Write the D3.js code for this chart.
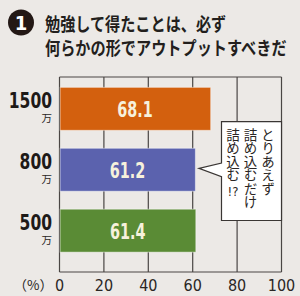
<!DOCTYPE html>
<html lang="ja">
<head>
<meta charset="UTF-8">
<title>アウトプット</title>
<script src="https://d3js.org/d3.v7.min.js"></script>
<style>
    body { margin: 0; background: #ECE9E6; }
    svg { display: block; }
    .jp { font-family: "Noto Sans CJK JP", sans-serif; }
    .num { font-family: "Liberation Sans Narrow", "DejaVu Sans Condensed", sans-serif; }
</style>
</head>
<body>
<div id="chart"></div>
<script>
// data
const categories = ["1500", "800", "500"];
const values = [68.1, 61.2, 61.4];
const colors = ["#D3600E", "#5B62AE", "#5A8B35"];
const unit = "万";
const ticks = [0, 20, 40, 60, 80, 100];
const titleLines = ["勉強して得たことは、必ず", "何らかの形でアウトプットすべきだ"];
const noteCols = ["とりあえず", "詰め込むだけ", "詰め込む"];

const width = 300, height = 296;
const svg = d3.select("#chart").append("svg")
    .attr("width", width)
    .attr("height", height);

svg.append("rect").attr("width", width).attr("height", height).attr("fill", "#ECE9E6");

// narrow bold digits: squeeze text to this width
function narrowLen(s, digitW) {
    return s.split("").reduce((a, c) => a + (c === "." ? digitW * 0.45 : digitW), 0);
}

// title
svg.append("circle").attr("cx", 21).attr("cy", 22.5).attr("r", 13).attr("fill", "#231815");
svg.append("text").attr("class", "num")
    .attr("x", 21).attr("y", 29.5)
    .attr("text-anchor", "middle")
    .attr("fill", "#fff").attr("font-weight", "bold").attr("font-size", 20)
    .text("1");
svg.selectAll(".title").data(titleLines).enter().append("text")
    .attr("class", "jp title")
    .attr("x", 45)
    .attr("y", (d, i) => 31 + i * 24)
    .attr("font-size", 18.5).attr("font-weight", "bold").attr("fill", "#231f1d")
    .attr("textLength", d => d.length * 15.1)
    .attr("lengthAdjust", "spacingAndGlyphs")
    .text(d => d);

// scales
const plotTop = 77, plotBottom = 272;
const x = d3.scaleLinear().domain([0, 100]).range([59.5, 281.5]);
const y = d3.scaleBand().domain(categories).range([plotTop, 262.5])
    .paddingInner(0.295).paddingOuter(0.17);

// grid
svg.selectAll(".grid").data(ticks).enter().append("line")
    .attr("x1", d => x(d)).attr("x2", d => x(d))
    .attr("y1", plotTop).attr("y2", plotBottom)
    .attr("stroke", "#4a4644").attr("stroke-width", 1.2);
svg.append("line").attr("x1", x(0)).attr("x2", x(100)).attr("y1", plotTop).attr("y2", plotTop)
    .attr("stroke", "#4a4644").attr("stroke-width", 1.2);
svg.append("line").attr("x1", x(0)).attr("x2", x(100)).attr("y1", plotBottom).attr("y2", plotBottom)
    .attr("stroke", "#4a4644").attr("stroke-width", 1.2);

// bars
svg.selectAll(".bar").data(categories).enter().append("rect")
    .attr("x", x(0) + 0.6)
    .attr("y", d => y(d))
    .attr("width", (d, i) => x(values[i]) - x(0) - 0.6)
    .attr("height", y.bandwidth())
    .attr("fill", (d, i) => colors[i])
    .attr("stroke", "#ffffff").attr("stroke-opacity", 0.45).attr("stroke-width", 1);

svg.selectAll(".val").data(categories).enter().append("text")
    .attr("class", "num")
    .attr("x", (d, i) => (x(0) + x(values[i])) / 2)
    .attr("y", d => y(d) + y.bandwidth() / 2 + 8.5)
    .attr("text-anchor", "middle")
    .attr("font-size", 22).attr("font-weight", "bold").attr("fill", "#F6F1DC")
    .attr("textLength", (d, i) => narrowLen(values[i].toFixed(1), 10.3))
    .attr("lengthAdjust", "spacingAndGlyphs")
    .text((d, i) => values[i].toFixed(1));

// category labels
svg.selectAll(".cat").data(categories).enter().append("text")
    .attr("class", "num")
    .attr("x", 52)
    .attr("y", d => y(d) + y.bandwidth() / 2 - 1)
    .attr("text-anchor", "end")
    .attr("font-size", 21).attr("font-weight", "bold").attr("fill", "#1e1a18")
    .attr("textLength", d => narrowLen(d, 10.8))
    .attr("lengthAdjust", "spacingAndGlyphs")
    .text(d => d);
svg.selectAll(".unit").data(categories).enter().append("text")
    .attr("class", "jp")
    .attr("x", 52)
    .attr("y", d => y(d) + y.bandwidth() / 2 + 13)
    .attr("text-anchor", "end")
    .attr("font-size", 10.5).attr("fill", "#2a2624")
    .text(unit);

// x tick labels
svg.selectAll(".tick").data(ticks).enter().append("text")
    .attr("class", "num")
    .attr("x", d => x(d))
    .attr("y", 290.5)
    .attr("text-anchor", "middle")
    .attr("font-size", 16).attr("fill", "#2a2624")
    .text(d => d);
svg.append("text").attr("class", "jp")
    .attr("x", 53).attr("y", 289.5)
    .attr("text-anchor", "end")
    .attr("font-size", 13.5).attr("fill", "#2a2624")
    .text("（%）");

// callout
const bx0 = 221.5, bx1 = x(100), by0 = 121.7, by1 = 220.5;
svg.append("path")
    .attr("d", `M${bx0},${by0} H${bx1} V${by1} H${bx0} V176.7 L199,168.3 L${bx0},163 Z`)
    .attr("fill", "#fff").attr("stroke", "#3a3634").attr("stroke-width", 1.2);
svg.selectAll(".note").data(noteCols).enter().append("text")
    .attr("class", "jp")
    .attr("x", (d, i) => 268 - i * 17.5)
    .attr("y", 128)
    .attr("font-size", 13.5).attr("fill", "#2a2624")
    .style("writing-mode", "vertical-rl")
    .style("text-orientation", "upright")
    .text(d => d);
svg.append("text").attr("class", "num")
    .attr("x", 233).attr("y", 196)
    .attr("text-anchor", "middle")
    .attr("font-size", 13).attr("fill", "#2a2624")
    .text("!?");
</script>
</body>
</html>
